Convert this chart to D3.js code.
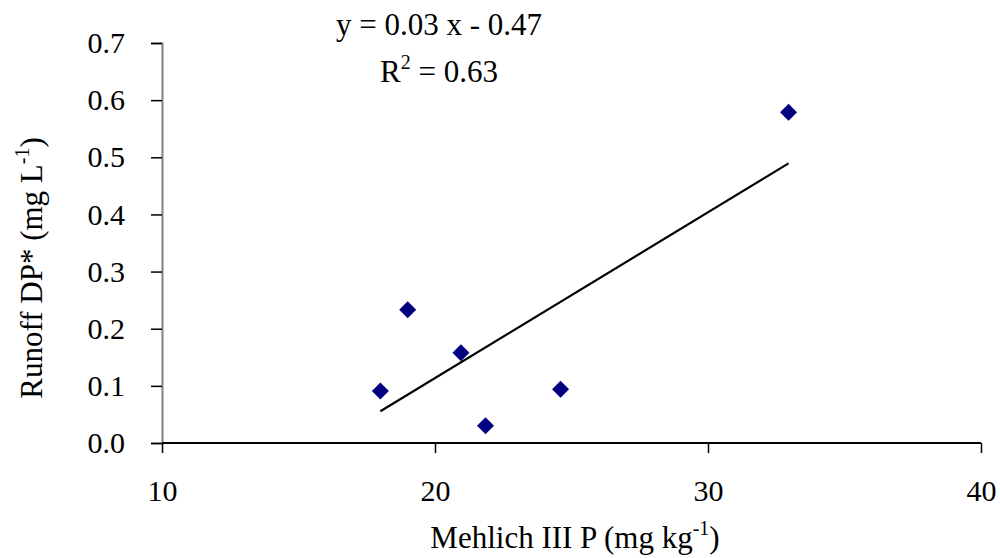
<!DOCTYPE html>
<html><head><meta charset="utf-8">
<script src="https://cdn.jsdelivr.net/npm/d3@7"></script>
<style>body{margin:0;background:#fff;} svg{display:block;} text{font-family:"Liberation Serif","Times New Roman",serif;fill:#000;}</style>
</head><body>
<svg id="c" width="1000" height="558"></svg>
<script>
const mehlichP = [18.0, 19.0, 20.95, 21.85, 24.6, 32.95];
const runoffDP = [0.091, 0.233, 0.158, 0.030, 0.094, 0.579];
const xTicks = [10, 20, 30, 40];
const yTicks = [0, 0.1, 0.2, 0.3, 0.4, 0.5, 0.6, 0.7];

const svg = d3.select("#c");
const x = d3.scaleLinear().domain([10, 40]).range([162, 981]);
const y = d3.scaleLinear().domain([0, 0.7]).range([443, 43]);

// y axis
const ya = svg.append("g").attr("transform", "translate(162,0)")
  .call(d3.axisLeft(y).tickValues(yTicks).tickFormat(d3.format(".1f")).tickSize(11).tickPadding(26));
ya.select(".domain").attr("stroke", "#808080").attr("stroke-width", 2);
ya.selectAll(".tick line").attr("stroke", "#000").attr("stroke-width", 1.5);
ya.selectAll(".tick text").attr("font-size", 30).attr("font-family", "Liberation Serif");

// x axis
const xa = svg.append("g").attr("transform", "translate(0,443)")
  .call(d3.axisBottom(x).tickValues(xTicks).tickSize(10).tickPadding(27));
xa.select(".domain").attr("stroke", "#000").attr("stroke-width", 2).attr("d", "M162,0H981");
xa.selectAll(".tick line").attr("stroke", "#000").attr("stroke-width", 1.5);
xa.selectAll(".tick text").attr("font-size", 30).attr("font-family", "Liberation Serif");

// regression
const n = mehlichP.length;
const mx = d3.mean(mehlichP), my = d3.mean(runoffDP);
let sxy = 0, sxx = 0;
for (let i = 0; i < n; i++) { sxy += (mehlichP[i]-mx)*(runoffDP[i]-my); sxx += (mehlichP[i]-mx)**2; }
const slope = sxy/sxx, icpt = my - slope*mx;
const x0 = d3.min(mehlichP), x1 = d3.max(mehlichP);
svg.append("line").attr("x1", x(x0)).attr("y1", y(slope*x0+icpt))
  .attr("x2", x(x1)).attr("y2", y(slope*x1+icpt))
  .attr("stroke", "#000").attr("stroke-width", 2.2);

// points
svg.append("g").selectAll("path").data(d3.range(n)).join("path")
  .attr("transform", i => `translate(${x(mehlichP[i])},${y(runoffDP[i])})`)
  .attr("d", "M0,-8.5L8.5,0L0,8.5L-8.5,0Z").attr("fill", "#000080");

// equation
svg.append("text").attr("x", 439).attr("y", 35).attr("text-anchor", "middle")
  .attr("font-size", 31).text("y = 0.03 x - 0.47");
const r2 = svg.append("text").attr("x", 439).attr("y", 82).attr("text-anchor", "middle").attr("font-size", 31);
r2.append("tspan").text("R");
r2.append("tspan").attr("dy", -13).attr("font-size", 20).text("2");
r2.append("tspan").attr("dy", 13).text(" = 0.63");

// axis titles
const xt = svg.append("text").attr("x", 575).attr("y", 548).attr("text-anchor", "middle").attr("font-size", 31);
xt.append("tspan").text("Mehlich III P (mg kg");
xt.append("tspan").attr("dy", -13).attr("font-size", 20).text("-1");
xt.append("tspan").attr("dy", 13).text(")");

const yt = svg.append("text").attr("transform", "translate(42,268) rotate(-90)").attr("text-anchor", "middle").attr("font-size", 31);
yt.append("tspan").text("Runoff DP* (mg L");
yt.append("tspan").attr("dy", -13).attr("font-size", 20).text("-1");
yt.append("tspan").attr("dy", 13).text(")");
</script>
</body></html>
